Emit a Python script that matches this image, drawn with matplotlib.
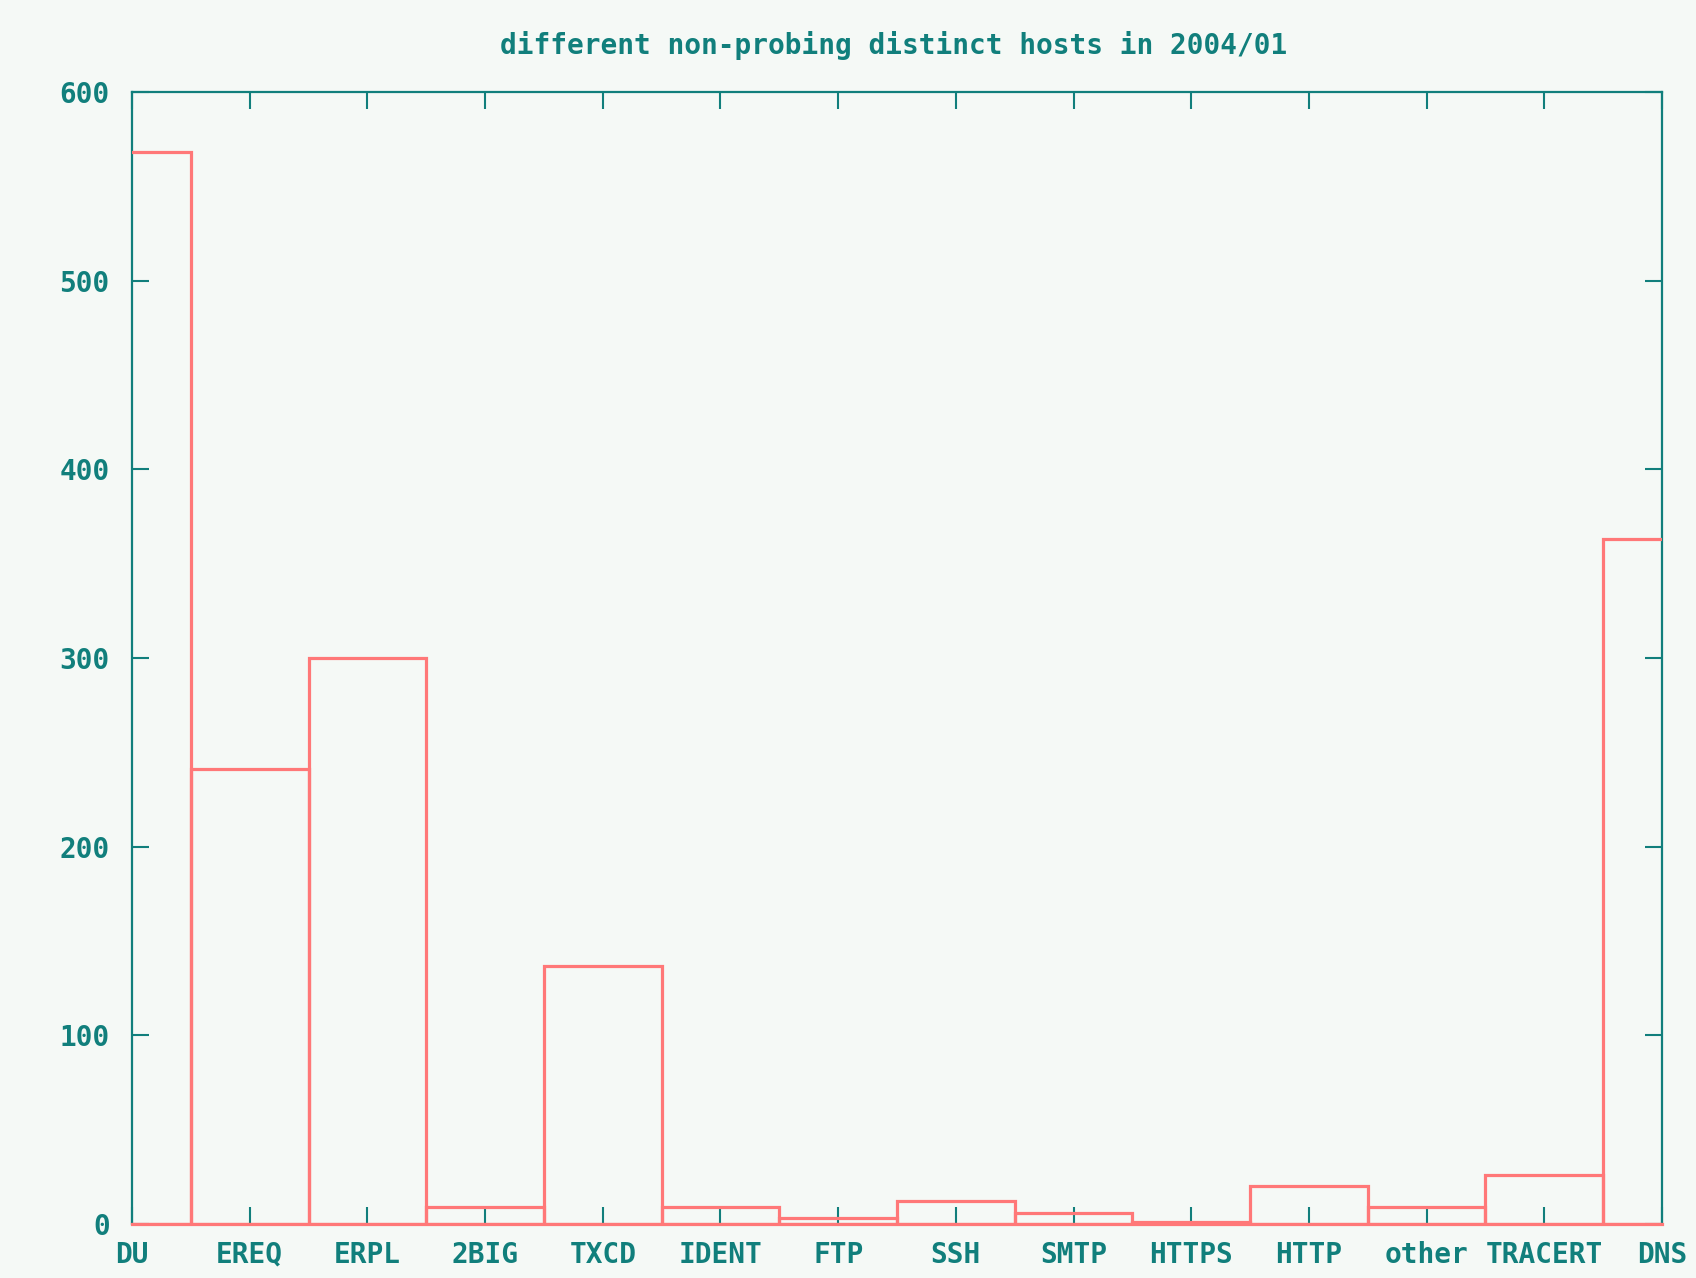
import numpy as np
import matplotlib
matplotlib.use("Agg")
import matplotlib.pyplot as plt

# categories and counts
categories = ["DU", "EREQ", "ERPL", "2BIG", "TXCD", "IDENT", "FTP",
              "SSH", "SMTP", "HTTPS", "HTTP", "other", "TRACERT", "DNS"]
hosts = [568, 241, 300, 9, 137, 9, 3, 12, 6, 1, 20, 9, 26, 363]
y_ticks = [0, 100, 200, 300, 400, 500, 600]

bg = "#f5f9f6"
teal = "#117f7c"
red = "#ff7878"

plt.rcParams["font.family"] = "DejaVu Sans Mono"
plt.rcParams["font.weight"] = "bold"

fig = plt.figure(figsize=(16.96, 12.78), dpi=100, facecolor=bg)
ax = fig.add_axes([132 / 1696, 1 - 1224 / 1278, (1662 - 132) / 1696, (1224 - 92) / 1278])
ax.set_facecolor(bg)

x = np.arange(len(categories))
ax.bar(x, hosts, width=1.0, fill=False, edgecolor=red, linewidth=2.3, zorder=5)

ax.set_xlim(0, len(categories) - 1)
ax.set_ylim(0, 600)
ax.set_xticks(x)
ax.set_xticklabels(categories)
ax.set_yticks(y_ticks)

for s in ax.spines.values():
    s.set_color(teal)
    s.set_linewidth(1.6)
# the box bottoms sit on the x axis and hide it
ax.spines["bottom"].set_color(red)
ax.spines["bottom"].set_linewidth(2.3)

ax.tick_params(axis="both", direction="in", length=12, width=1.5, color=teal,
               labelcolor=teal, labelsize=20, top=True, right=True)
ax.tick_params(axis="x", pad=12)
ax.tick_params(axis="y", pad=16)

fig.text(894 / 1696, 1 - 46 / 1278, "different non-probing distinct hosts in 2004/01",
         ha="center", va="center", color=teal, fontsize=20, fontweight="bold")

fig.savefig("out.png", dpi=100, facecolor=bg)
